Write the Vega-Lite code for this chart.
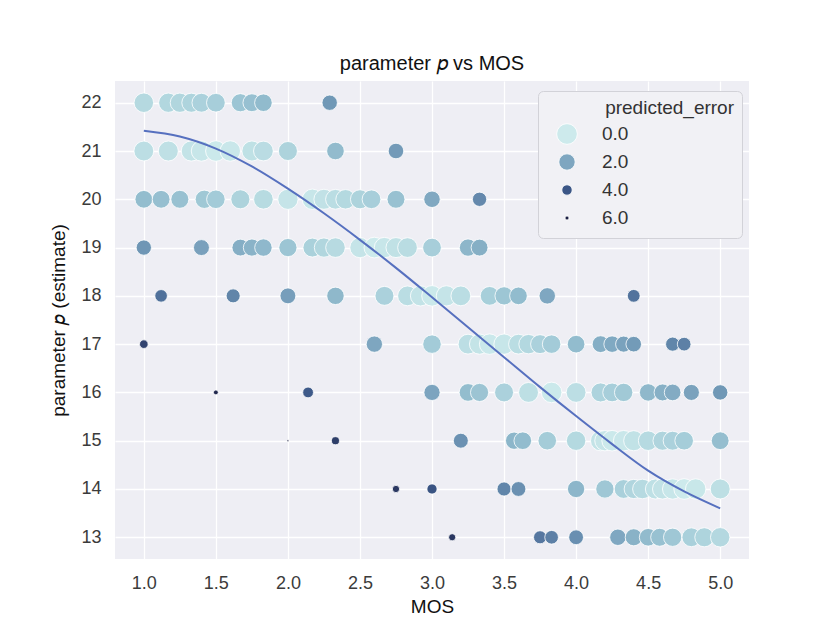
{
  "$schema": "https://vega.github.io/schema/vega-lite/v6.json",
  "width": 634,
  "height": 478,
  "autosize": "none",
  "padding": {"left": 115, "top": 81, "right": 76, "bottom": 65},
  "background": "white",
  "title": {
    "text": "parameter 𝑝 vs MOS",
    "fontSize": 20,
    "fontWeight": "normal",
    "color": "#111111",
    "offset": 7
  },
  "config": {
    "font": "Liberation Sans",
    "view": {"fill": "#eeeef4", "stroke": null},
    "axis": {
      "domain": false,
      "ticks": false,
      "grid": true,
      "gridColor": "white",
      "gridWidth": 1.3,
      "labelFontSize": 18,
      "labelColor": "#3b3b3b",
      "titleFontSize": 19,
      "titleFontWeight": "normal",
      "titleColor": "#111111"
    },
    "legend": {
      "orient": "none",
      "legendX": 423,
      "legendY": 10,
      "padding": 8,
      "fillColor": "#f1f1f5",
      "strokeColor": "#d2d2d8",
      "cornerRadius": 5,
      "titleFontSize": 19,
      "titleFontWeight": "normal",
      "titleColor": "#333333",
      "titleAnchor": "end",
      "titlePadding": 4,
      "labelFontSize": 19,
      "labelColor": "#333333",
      "labelOffset": 24,
      "symbolOffset": 10,
      "clipHeight": 24,
      "rowPadding": 4,
      "symbolStrokeColor": "white",
      "symbolStrokeWidth": 0.8
    }
  },
  "datasets": {
    "obs": [
      {"mos": 1.0, "p": 22, "err": 0.58}, {"mos": 1.17, "p": 22, "err": 0.66}, {"mos": 1.25, "p": 22, "err": 0.7},
      {"mos": 1.33, "p": 22, "err": 0.77}, {"mos": 1.4, "p": 22, "err": 0.85}, {"mos": 1.5, "p": 22, "err": 0.95},
      {"mos": 1.67, "p": 22, "err": 1.2}, {"mos": 1.75, "p": 22, "err": 1.33}, {"mos": 1.83, "p": 22, "err": 1.47},
      {"mos": 2.29, "p": 22, "err": 2.38},

      {"mos": 1.0, "p": 21, "err": 0.42}, {"mos": 1.17, "p": 21, "err": 0.34}, {"mos": 1.33, "p": 21, "err": 0.23},
      {"mos": 1.4, "p": 21, "err": 0.15}, {"mos": 1.5, "p": 21, "err": 0.05}, {"mos": 1.6, "p": 21, "err": 0.1},
      {"mos": 1.75, "p": 21, "err": 0.33}, {"mos": 1.83, "p": 21, "err": 0.47}, {"mos": 2.0, "p": 21, "err": 0.8},
      {"mos": 2.33, "p": 21, "err": 1.46}, {"mos": 2.75, "p": 21, "err": 2.32},

      {"mos": 1.0, "p": 20, "err": 1.42}, {"mos": 1.12, "p": 20, "err": 1.36}, {"mos": 1.25, "p": 20, "err": 1.3},
      {"mos": 1.42, "p": 20, "err": 1.14}, {"mos": 1.5, "p": 20, "err": 1.05}, {"mos": 1.67, "p": 20, "err": 0.8},
      {"mos": 1.83, "p": 20, "err": 0.53}, {"mos": 2.0, "p": 20, "err": 0.2}, {"mos": 2.17, "p": 20, "err": 0.14},
      {"mos": 2.25, "p": 20, "err": 0.3}, {"mos": 2.33, "p": 20, "err": 0.46}, {"mos": 2.4, "p": 20, "err": 0.6},
      {"mos": 2.5, "p": 20, "err": 0.8}, {"mos": 2.58, "p": 20, "err": 0.96}, {"mos": 2.75, "p": 20, "err": 1.32},
      {"mos": 3.0, "p": 20, "err": 1.95}, {"mos": 3.33, "p": 20, "err": 2.78},

      {"mos": 1.0, "p": 19, "err": 2.42}, {"mos": 1.4, "p": 19, "err": 2.15}, {"mos": 1.67, "p": 19, "err": 1.8},
      {"mos": 1.75, "p": 19, "err": 1.67}, {"mos": 1.83, "p": 19, "err": 1.53}, {"mos": 2.0, "p": 19, "err": 1.2},
      {"mos": 2.17, "p": 19, "err": 0.86}, {"mos": 2.25, "p": 19, "err": 0.7}, {"mos": 2.33, "p": 19, "err": 0.54},
      {"mos": 2.5, "p": 19, "err": 0.2}, {"mos": 2.6, "p": 19, "err": 0.0}, {"mos": 2.67, "p": 19, "err": 0.15},
      {"mos": 2.75, "p": 19, "err": 0.32}, {"mos": 2.83, "p": 19, "err": 0.48}, {"mos": 3.0, "p": 19, "err": 0.95},
      {"mos": 3.25, "p": 19, "err": 1.58}, {"mos": 3.33, "p": 19, "err": 1.78},

      {"mos": 1.12, "p": 18, "err": 3.36}, {"mos": 1.62, "p": 18, "err": 2.88}, {"mos": 2.0, "p": 18, "err": 2.2},
      {"mos": 2.33, "p": 18, "err": 1.54}, {"mos": 2.67, "p": 18, "err": 0.85}, {"mos": 2.83, "p": 18, "err": 0.45},
      {"mos": 2.92, "p": 18, "err": 0.25}, {"mos": 3.0, "p": 18, "err": 0.05}, {"mos": 3.1, "p": 18, "err": 0.2},
      {"mos": 3.2, "p": 18, "err": 0.45}, {"mos": 3.4, "p": 18, "err": 0.94}, {"mos": 3.5, "p": 18, "err": 1.18},
      {"mos": 3.6, "p": 18, "err": 1.45}, {"mos": 3.8, "p": 18, "err": 1.97}, {"mos": 4.4, "p": 18, "err": 3.3},

      {"mos": 1.0, "p": 17, "err": 4.42}, {"mos": 2.6, "p": 17, "err": 2.0}, {"mos": 3.0, "p": 17, "err": 1.05},
      {"mos": 3.25, "p": 17, "err": 0.42}, {"mos": 3.33, "p": 17, "err": 0.22}, {"mos": 3.4, "p": 17, "err": 0.06},
      {"mos": 3.5, "p": 17, "err": 0.15}, {"mos": 3.6, "p": 17, "err": 0.45}, {"mos": 3.67, "p": 17, "err": 0.63},
      {"mos": 3.75, "p": 17, "err": 0.85}, {"mos": 3.83, "p": 17, "err": 1.05}, {"mos": 4.0, "p": 17, "err": 1.45},
      {"mos": 4.17, "p": 17, "err": 1.8}, {"mos": 4.25, "p": 17, "err": 1.93}, {"mos": 4.33, "p": 17, "err": 2.1},
      {"mos": 4.4, "p": 17, "err": 2.3}, {"mos": 4.67, "p": 17, "err": 2.85}, {"mos": 4.75, "p": 17, "err": 3.0},

      {"mos": 1.5, "p": 16, "err": 5.05}, {"mos": 2.14, "p": 16, "err": 3.9}, {"mos": 3.0, "p": 16, "err": 2.05},
      {"mos": 3.25, "p": 16, "err": 1.42}, {"mos": 3.33, "p": 16, "err": 1.22}, {"mos": 3.5, "p": 16, "err": 0.85},
      {"mos": 3.67, "p": 16, "err": 0.38}, {"mos": 3.83, "p": 16, "err": 0.05}, {"mos": 4.0, "p": 16, "err": 0.42},
      {"mos": 4.17, "p": 16, "err": 0.78}, {"mos": 4.25, "p": 16, "err": 0.95}, {"mos": 4.33, "p": 16, "err": 1.1},
      {"mos": 4.5, "p": 16, "err": 1.54}, {"mos": 4.6, "p": 16, "err": 1.75}, {"mos": 4.67, "p": 16, "err": 1.87},
      {"mos": 4.8, "p": 16, "err": 2.1}, {"mos": 5.0, "p": 16, "err": 2.38},

      {"mos": 2.0, "p": 15, "err": 5.3}, {"mos": 2.33, "p": 15, "err": 4.54}, {"mos": 3.2, "p": 15, "err": 2.55},
      {"mos": 3.57, "p": 15, "err": 1.6}, {"mos": 3.63, "p": 15, "err": 1.45}, {"mos": 3.8, "p": 15, "err": 1.03},
      {"mos": 4.0, "p": 15, "err": 0.6}, {"mos": 4.17, "p": 15, "err": 0.25}, {"mos": 4.2, "p": 15, "err": 0.17},
      {"mos": 4.25, "p": 15, "err": 0.05}, {"mos": 4.33, "p": 15, "err": 0.1}, {"mos": 4.4, "p": 15, "err": 0.28},
      {"mos": 4.5, "p": 15, "err": 0.55}, {"mos": 4.6, "p": 15, "err": 0.75}, {"mos": 4.67, "p": 15, "err": 0.85},
      {"mos": 4.75, "p": 15, "err": 1.0}, {"mos": 5.0, "p": 15, "err": 1.38},

      {"mos": 2.75, "p": 14, "err": 4.68}, {"mos": 3.0, "p": 14, "err": 4.05}, {"mos": 3.5, "p": 14, "err": 2.85},
      {"mos": 3.6, "p": 14, "err": 2.58}, {"mos": 4.0, "p": 14, "err": 1.6}, {"mos": 4.2, "p": 14, "err": 1.15},
      {"mos": 4.33, "p": 14, "err": 0.9}, {"mos": 4.4, "p": 14, "err": 0.72}, {"mos": 4.46, "p": 14, "err": 0.55},
      {"mos": 4.55, "p": 14, "err": 0.36}, {"mos": 4.6, "p": 14, "err": 0.27}, {"mos": 4.67, "p": 14, "err": 0.15},
      {"mos": 4.75, "p": 14, "err": 0.0}, {"mos": 4.83, "p": 14, "err": 0.12}, {"mos": 5.0, "p": 14, "err": 0.38},

      {"mos": 3.14, "p": 13, "err": 4.7}, {"mos": 3.75, "p": 13, "err": 3.2}, {"mos": 3.83, "p": 13, "err": 3.0},
      {"mos": 4.0, "p": 13, "err": 2.6}, {"mos": 4.29, "p": 13, "err": 1.97}, {"mos": 4.4, "p": 13, "err": 1.7},
      {"mos": 4.5, "p": 13, "err": 1.46}, {"mos": 4.58, "p": 13, "err": 1.3}, {"mos": 4.67, "p": 13, "err": 1.15},
      {"mos": 4.8, "p": 13, "err": 0.9}, {"mos": 4.89, "p": 13, "err": 0.77}, {"mos": 5.0, "p": 13, "err": 0.62}
    ],
    "fit": [
      {"mos": 1.0, "p": 21.42}, {"mos": 1.25, "p": 21.3}, {"mos": 1.5, "p": 21.05}, {"mos": 1.75, "p": 20.68},
      {"mos": 2.0, "p": 20.22}, {"mos": 2.25, "p": 19.71}, {"mos": 2.5, "p": 19.16}, {"mos": 2.75, "p": 18.58},
      {"mos": 3.0, "p": 17.97}, {"mos": 3.25, "p": 17.35}, {"mos": 3.5, "p": 16.73}, {"mos": 3.75, "p": 16.11},
      {"mos": 4.0, "p": 15.51}, {"mos": 4.25, "p": 14.93}, {"mos": 4.5, "p": 14.38}, {"mos": 4.75, "p": 13.95},
      {"mos": 5.0, "p": 13.6}
    ]
  },
  "layer": [
    {
      "data": {"name": "obs"},
      "mark": {"type": "circle", "opacity": 1, "stroke": "white", "strokeWidth": 0.8},
      "encoding": {
        "x": {
          "field": "mos", "type": "quantitative", "title": "MOS",
          "scale": {"domain": [0.8, 5.2], "nice": false, "zero": false},
          "axis": {"values": [1, 1.5, 2, 2.5, 3, 3.5, 4, 4.5, 5], "format": ".1f", "labelPadding": 15, "titlePadding": 5}
        },
        "y": {
          "field": "p", "type": "quantitative", "title": "parameter 𝑝 (estimate)",
          "scale": {"domain": [12.55, 22.45], "nice": false, "zero": false},
          "axis": {"values": [13, 14, 15, 16, 17, 18, 19, 20, 21, 22], "labelPadding": 14, "titlePadding": 12}
        },
        "color": {
          "field": "err", "type": "quantitative", "title": "predicted_error",
          "scale": {"domain": [0, 1, 2, 3, 4, 5.3, 6], "range": ["#cdeaec", "#a5cdd9", "#7ea6c0", "#5d80a6", "#3b5686", "#1b1f42", "#1b1f42"], "clamp": true},
          "legend": {"type": "symbol", "values": [0, 2, 4, 6], "labelExpr": "format(datum.value, '.1f') + '\u00a0\u00a0\u00a0\u00a0\u00a0\u00a0\u00a0\u00a0\u00a0\u00a0\u00a0\u00a0\u00a0\u00a0\u00a0\u00a0\u00a0\u00a0\u00a0\u00a0\u200b'"}
        },
        "size": {
          "field": "err", "type": "quantitative", "title": "predicted_error",
          "scale": {"domain": [0, 1, 2, 3, 4, 5.3, 6], "range": [426, 346.4, 266.8, 187.2, 107.6, 4, 16], "clamp": true, "zero": false},
          "legend": {"type": "symbol", "values": [0, 2, 4, 6], "labelExpr": "format(datum.value, '.1f') + '\u00a0\u00a0\u00a0\u00a0\u00a0\u00a0\u00a0\u00a0\u00a0\u00a0\u00a0\u00a0\u00a0\u00a0\u00a0\u00a0\u00a0\u00a0\u00a0\u00a0\u200b'"}
        }
      }
    },
    {
      "data": {"name": "fit"},
      "mark": {"type": "line", "color": "#5670bf", "strokeWidth": 2, "interpolate": "monotone"},
      "encoding": {
        "x": {"field": "mos", "type": "quantitative", "title": "MOS"},
        "y": {"field": "p", "type": "quantitative", "title": "parameter 𝑝 (estimate)"}
      }
    }
  ]
}
